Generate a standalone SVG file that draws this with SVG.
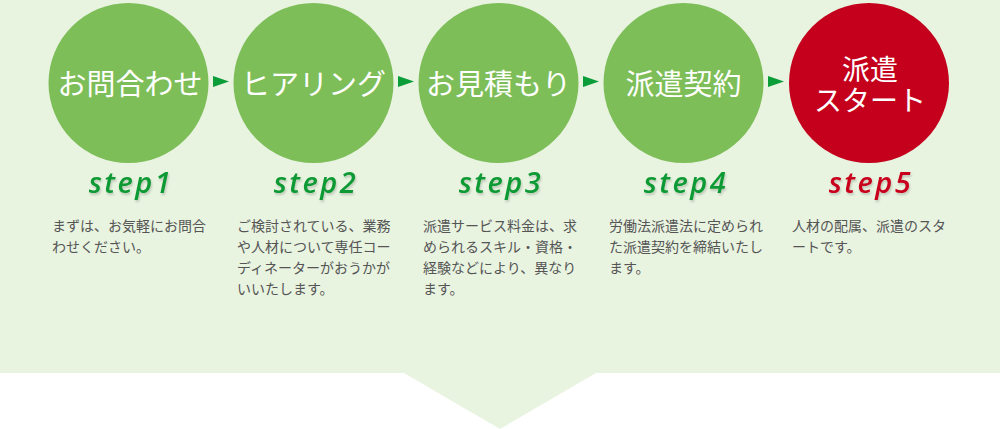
<svg xmlns="http://www.w3.org/2000/svg" width="1000" height="429" viewBox="0 0 1000 429">
<defs>
<style>
.circ{fill:#7dbe58}
.red{fill:#c4001c}
.ct{font-family:"Noto Sans CJK JP","Noto Sans",sans-serif;font-size:29px;fill:#fff;text-anchor:middle}
.ct2{font-size:28px}
.st{font-family:"Open Sans","DejaVu Sans",sans-serif;font-style:italic;font-weight:600;font-size:29px;text-anchor:middle;letter-spacing:2.5px;filter:url(#sh)}
.g{fill:#0e9a34}
.r{fill:#c8001e}
.d{font-family:"Noto Sans CJK JP","Noto Sans",sans-serif;font-size:14px;fill:#555}
.arr{fill:#0a9d38}
</style>
<filter id="sh" x="-20%" y="-20%" width="140%" height="160%">
<feDropShadow dx="1" dy="2" stdDeviation="1" flood-color="#000" flood-opacity="0.18"/>
</filter>
</defs>
<rect width="1000" height="429" fill="#fff"/>
<path d="M0 0H1000V373H596L500 429L404 373H0Z" fill="#e8f3e0"/>
<g id="connectors">
<polygon class="arr" points="213,76 229,81.5 213,87"/>
<polygon class="arr" points="398,76 414,81.5 398,87"/>
<polygon class="arr" points="583,76 599,81.5 583,87"/>
<polygon class="arr" points="768,76 784,81.5 768,87"/>
</g>
<g id="step1">
<circle class="circ" cx="128.5" cy="83" r="80"/>
<text class="ct" x="130" y="95">お問合わせ</text>
<text class="st g" x="131" y="193">step1</text>
<text class="d" x="52" y="231">まずは、お気軽にお問合</text>
<text class="d" x="52" y="252">わせください。</text>
</g>
<g id="step2">
<circle class="circ" cx="313.5" cy="83" r="80"/>
<text class="ct" x="313.5" y="95">ヒアリング</text>
<text class="st g" x="316" y="193">step2</text>
<text class="d" x="237" y="231">ご検討されている、業務</text>
<text class="d" x="237" y="252">や人材について専任コー</text>
<text class="d" x="237" y="273">ディネーターがおうかが</text>
<text class="d" x="237" y="294">いいたします。</text>
</g>
<g id="step3">
<circle class="circ" cx="498.5" cy="83" r="80"/>
<text class="ct" x="498.5" y="95">お見積もり</text>
<text class="st g" x="501" y="193">step3</text>
<text class="d" x="423" y="231">派遣サービス料金は、求</text>
<text class="d" x="423" y="252">められるスキル・資格・</text>
<text class="d" x="423" y="273">経験などにより、異なり</text>
<text class="d" x="423" y="294">ます。</text>
</g>
<g id="step4">
<circle class="circ" cx="683.5" cy="83" r="80"/>
<text class="ct" x="683.5" y="95">派遣契約</text>
<text class="st g" x="686" y="193">step4</text>
<text class="d" x="609" y="231">労働法派遣法に定められ</text>
<text class="d" x="609" y="252">た派遣契約を締結いたし</text>
<text class="d" x="609" y="273">ます。</text>
</g>
<g id="step5">
<circle class="red" cx="869" cy="83" r="80"/>
<text class="ct ct2"><tspan x="870" y="80">派遣</tspan><tspan x="870" y="111">スタート</tspan></text>
<text class="st r" x="871" y="193">step5</text>
<text class="d" x="792" y="231">人材の配属、派遣のスタ</text>
<text class="d" x="792" y="252">ートです。</text>
</g>
</svg>
